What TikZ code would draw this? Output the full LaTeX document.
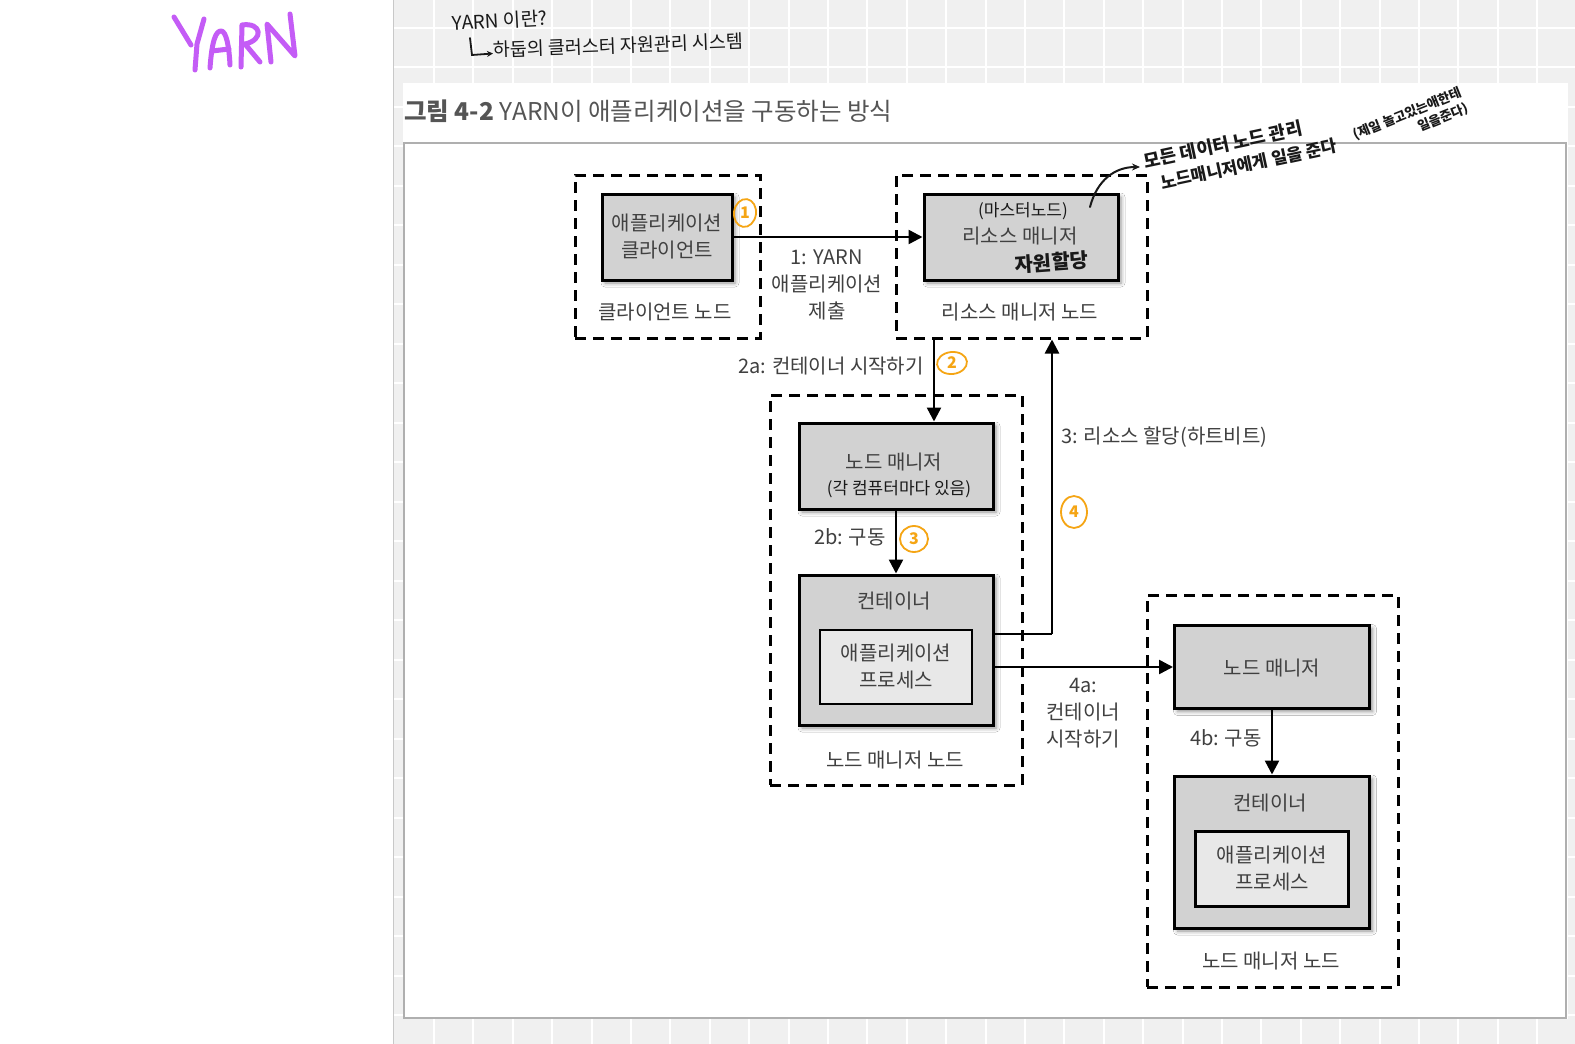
\documentclass[tikz,border=0pt]{standalone}
\usepackage{fontspec}
\setmainfont{Noto Sans CJK KR}
\usetikzlibrary{arrows.meta,shadows.blur,calc}

\definecolor{gridbg}{RGB}{240,240,240}
\definecolor{divider}{RGB}{200,200,200}
\definecolor{framegray}{RGB}{175,175,175}
\definecolor{boxgray}{RGB}{210,210,210}
\definecolor{innergray}{RGB}{232,232,232}
\definecolor{txtgray}{RGB}{64,64,64}
\definecolor{captiongray}{RGB}{85,85,85}
\definecolor{pen}{RGB}{25,25,25}
\definecolor{yarnpurple}{RGB}{196,92,246}
\definecolor{marker}{RGB}{245,165,20}

\tikzset{
  dbox/.style={draw=black, line width=3pt, dash pattern=on 11pt off 7pt, inner sep=0pt},
  gbox/.style={draw=black, line width=3pt, fill=boxgray, inner sep=0pt,
    blur shadow={shadow xshift=3pt, shadow yshift=-3pt, shadow blur radius=4pt, shadow opacity=45}},
  ibox/.style={draw=black, line width=2.5pt, fill=innergray, inner sep=0pt},
  lbl/.style={text=txtgray, font=\fontsize{20}{27}\selectfont, align=center, inner sep=0pt},
  tight/.style={text height=0.8em, text depth=0.15em, yshift=-5.5pt},
  handtxt/.style={text=pen, inner sep=0pt, align=center},
  arr/.style={line width=2.5pt, -{Triangle[length=14pt,width=14pt]}},
  yarnpen/.style={draw=yarnpurple, line width=5pt, line cap=round, line join=round},
  num/.style={text=marker, font=\fontsize{16}{16}\selectfont\bfseries, inner sep=0pt},
  ring/.style={draw=marker, line width=1.8pt},
}

\begin{document}
\begin{tikzpicture}[x=1pt,y=-1pt]
\useasboundingbox (0,0) rectangle (1575,1044);

% page background: white margin and gridded notebook area
\fill[white] (0,0) rectangle (1575,1044);
\fill[gridbg] (394,0) rectangle (1575,1044);
\foreach \i in {0,...,29}
  \draw[white, line width=2pt] ({434+39.4*\i},0) -- ({434+39.4*\i},1044);
\foreach \j in {0,...,26}
  \draw[white, line width=2pt] (394,{27.5+39.5*\j}) -- (1575,{27.5+39.5*\j});
\draw[divider, line width=1.5pt] (393.5,0) -- (393.5,1044);

% hand-lettered title
\draw[yarnpen] (174,17) -- (191,45);
\draw[yarnpen] (204,19) -- (197,44) -- (195,70);
\draw[yarnpen] (210,68) .. controls (212,40) and (216,31) .. (221,31)
                        .. controls (226,31) and (229,45) .. (230,65);
\draw[yarnpen] (212,51) -- (229,49);
\draw[yarnpen] (241,67) -- (242,25) .. controls (262,22) and (264,40) .. (245,44) -- (260,62);
\draw[yarnpen] (271,62) -- (267,24) -- (295,56) -- (290,14);

% handwritten note at the top
\node[handtxt, tight, font=\fontsize{19}{19}\selectfont, rotate=3] (q) at (500,19) {YARN 이란?};
\node[handtxt, tight, font=\fontsize{18.5}{18.5}\selectfont, rotate=2, anchor=west] (ans) at (493,48) {하둡의 클러스터 자원관리 시스템};
\coordinate (hk1) at (470,38);
\coordinate (hk2) at (472,55);
\draw[pen, line width=1.8pt, line cap=round, -{Stealth[length=6pt,width=6pt]}] (hk1) -- (hk2) -- (ans.west);

% figure card
\fill[white] (403,83) rectangle (1568,1019);
\draw[framegray, line width=2pt] (404,143) rectangle (1566,1018);
\node[anchor=west, tight, text=captiongray, font=\fontsize{24.5}{24.5}\selectfont, inner sep=0pt] (cap) at (404,112)
  {\textbf{그림 4-2} YARN이 애플리케이션을 구동하는 방식};

% node groups (dashed)
\node[dbox, minimum width=185, minimum height=163] (cnode) at (667.5,256.5) {};
\node[dbox, minimum width=251, minimum height=163] (rmnode) at (1021.5,256.5) {};
\node[dbox, minimum width=252, minimum height=390] (nmnode) at (896,590) {};
\node[dbox, minimum width=251, minimum height=392] (nmnodeb) at (1272.5,791) {};

% components
\node[gbox, minimum width=130, minimum height=86] (client) at (667,237) {};
\node[lbl] at (client) {애플리케이션\\클라이언트};
\node[gbox, minimum width=194, minimum height=86] (rm) at (1021,237) {};
\node[handtxt, tight, font=\fontsize{17}{17}\selectfont] (master) at (1023,208) {(마스터노드)};
\node[lbl, tight] (rmtxt) at (1020,235) {리소스 매니저};
\node[handtxt, tight, font=\fontsize{20}{20}\selectfont\bfseries, rotate=4] (alloc) at (1052,261) {자원할당};

\node[gbox, minimum width=194, minimum height=86] (nm) at (896,466) {};
\node[lbl, tight] (nmtxt) at (894,461) {노드 매니저};
\node[handtxt, tight, font=\fontsize{17}{17}\selectfont] (each) at (899,486) {(각 컴퓨터마다 있음)};

\node[gbox, minimum width=194, minimum height=150] (cont) at (896,650) {};
\node[lbl, tight] (conttxt) at (894,600) {컨테이너};
\node[ibox, minimum width=152, minimum height=74] (proc) at (896,667) {};
\node[lbl] at (proc) {애플리케이션\\프로세스};

\node[gbox, minimum width=195, minimum height=83] (nmb) at (1272,667) {};
\node[lbl, tight] at (nmb) {노드 매니저};
\node[gbox, minimum width=195, minimum height=152] (contb) at (1272,852) {};
\node[lbl, tight] (contbtxt) at (1270,802) {컨테이너};
\node[ibox, minimum width=153, minimum height=75] (procb) at (1272,869) {};
\node[lbl] at (procb) {애플리케이션\\프로세스};

% group captions
\node[lbl, tight] (cnodetxt) at (665,311) {클라이언트 노드};
\node[lbl, tight] (rmnodetxt) at (1020,311) {리소스 매니저 노드};
\node[lbl, tight] (nmnodetxt) at (895,759) {노드 매니저 노드};
\node[lbl, tight] (nmnodebtxt) at (1271,960) {노드 매니저 노드};

% connectors
\draw[arr] (client.east) -- (rm.west);
\node[lbl] (l1) at (827,285) {1: YARN\\애플리케이션\\제출};

\coordinate (a2x) at (934,0);
\draw[arr] (rmnode.south -| a2x) -- (nm.north -| a2x);
\node[lbl, tight, anchor=east] (l2a) at (924,365) {2a: 컨테이너 시작하기};

\draw[arr] (nm.south) -- (cont.north);
\node[lbl, tight, anchor=east] (l2b) at (886,536) {2b: 구동};

\coordinate (hbturn) at (1052,634);
\draw[line width=2.5pt] (cont.east |- hbturn) -- (hbturn);
\draw[arr] (hbturn) -- (hbturn |- rmnode.south);
\node[lbl, tight, anchor=west] (l3) at (1061,435) {3: 리소스 할당(하트비트)};

\draw[arr] (cont.east |- nmb.west) -- (nmb.west);
\node[lbl] (l4a) at (1083,713) {4a:\\컨테이너\\시작하기};

\draw[arr] (nmb.south) -- (contb.north);
\node[lbl, tight, anchor=east] (l4b) at (1262,737) {4b: 구동};

% step markers
\node[num] (m1) at (745,213) {1};
\draw[ring, rotate around={-8:(m1)}] (m1) ellipse [x radius=11, y radius=14];
\node[num] (m2) at (952,363) {2};
\draw[ring, rotate around={6:(m2)}] (m2) ellipse [x radius=15, y radius=11];
\node[num] (m3) at (914,539) {3};
\draw[ring] (m3) ellipse [x radius=14, y radius=13];
\node[num] (m4) at (1074,512) {4};
\draw[ring] (m4) ellipse [x radius=13, y radius=16];

% margin note about the resource manager
\coordinate (noteend) at (1140,167);
\draw[pen, line width=2pt, line cap=round, -{Stealth[length=8pt,width=7pt]}]
  (1090,207) .. controls (1097,180) and (1115,167) .. (noteend);
\node[handtxt, align=left, font=\fontsize{18}{25}\selectfont\bfseries, rotate=12, anchor=north west]
  (n1) at (1142,153) {모든 데이터 노드 관리\\[-1pt]\hspace{12pt}{\fontsize{17}{17}\selectfont 노드매니저에게 일을 준다}};
\node[handtxt, align=right, font=\fontsize{13}{17}\selectfont\bfseries, rotate=22] (n3) at (1411,122)
  {(제일 놀고있는애한테\\일을준다)\hspace{10pt}};
\end{tikzpicture}
\end{document}
